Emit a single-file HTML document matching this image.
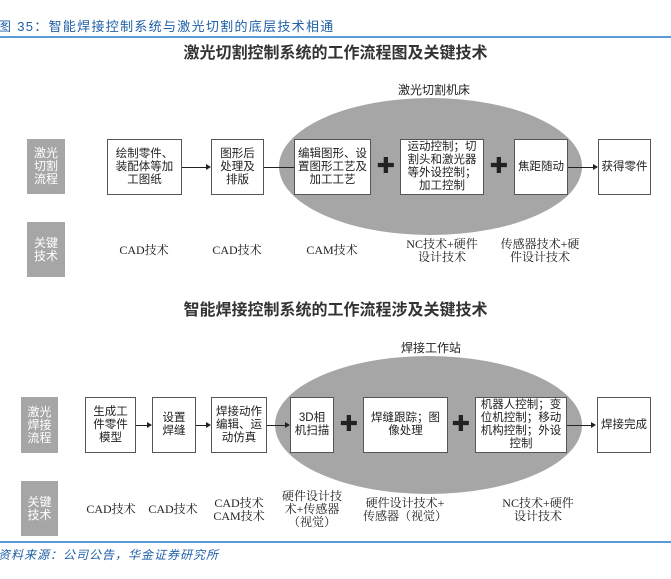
<!DOCTYPE html>
<html><head><meta charset="utf-8"><style>
body{margin:0;width:671px;height:579px;background:#fff;position:relative;overflow:hidden;font-family:"Liberation Serif","Noto Serif CJK SC",serif;color:#222}
div{position:absolute;box-sizing:border-box}
.b{border:1.5px solid #555;background:#fff;display:flex;align-items:center;justify-content:center;text-align:center;font-size:11.5px;line-height:13px;font-family:"Liberation Sans","Noto Sans CJK SC",sans-serif}
.g{background:#a6a6a6;color:#fff;display:flex;align-items:center;justify-content:center;text-align:center;font-size:12px;line-height:13px;font-family:"Liberation Sans","Noto Sans CJK SC",sans-serif}
.e{background:#a6a6a6;border-radius:50%}
.t{text-align:center;font-size:12px;line-height:13px;transform:translateX(-50%);white-space:nowrap}
.ttl{font-size:16px;font-family:"Liberation Sans","Noto Sans CJK SC",sans-serif;font-weight:bold;color:#333;width:671px;text-align:center;left:0}
.ln{height:1px;background:#222}
.ar{width:0;height:0;border-left:5px solid #222;border-top:3px solid transparent;border-bottom:3px solid transparent}
.p{font-size:22px;font-weight:900;font-family:"DejaVu Sans",sans-serif;transform:translate(-50%,-50%);line-height:22px}
.lab{font-size:12px;font-family:"Liberation Sans","Noto Sans CJK SC",sans-serif;transform:translateX(-50%);white-space:nowrap}
</style></head><body>
<div style="left:-2px;top:16px;font-size:13px;letter-spacing:1.3px;color:#1f5fa8;font-family:'Liberation Sans','Noto Sans CJK SC',sans-serif;white-space:nowrap">图 35：智能焊接控制系统与激光切割的底层技术相通</div>
<div style="left:0;top:36px;width:671px;height:1.5px;background:#5b9bd5"></div>
<div class="ttl" style="top:39px">激光切割控制系统的工作流程图及关键技术</div>
<div class="lab" style="left:434px;top:81px">激光切割机床</div>
<div class="e" style="left:279px;top:98px;width:303px;height:137px"></div>
<div class="g" style="left:27px;top:139px;width:38px;height:55px">激光<br>切割<br>流程</div>
<div class="g" style="left:27px;top:222px;width:38px;height:55px">关键<br>技术</div>
<div class="ln" style="left:182px;top:167px;width:25px"></div><div class="ar" style="left:206px;top:164px"></div>
<div class="ln" style="left:264px;top:167px;width:30px"></div>
<div class="ln" style="left:568px;top:167px;width:26px"></div><div class="ar" style="left:593px;top:164px"></div>
<div class="b" style="left:107px;top:139px;width:75px;height:56px">绘制零件、<br>装配体等加<br>工图纸</div>
<div class="b" style="left:211px;top:139px;width:53px;height:56px">图形后<br>处理及<br>排版</div>
<div class="b" style="left:294px;top:139px;width:77px;height:56px">编辑图形、设<br>置图形工艺及<br>加工工艺</div>
<div class="b" style="left:400px;top:139px;width:84px;height:56px">运动控制；切<br>割头和激光器<br>等外设控制；<br>加工控制</div>
<div class="b" style="left:514px;top:139px;width:54px;height:56px">焦距随动</div>
<div class="b" style="left:598px;top:139px;width:53px;height:56px">获得零件</div>
<div class="p" style="left:386px;top:167px">✚</div>
<div class="p" style="left:499px;top:167px">✚</div>
<div class="t" style="left:144px;top:244px">CAD技术</div>
<div class="t" style="left:237px;top:244px">CAD技术</div>
<div class="t" style="left:332px;top:244px">CAM技术</div>
<div class="t" style="left:442px;top:238px">NC技术+硬件<br>设计技术</div>
<div class="t" style="left:540px;top:238px">传感器技术+硬<br>件设计技术</div>

<div class="ttl" style="top:296px">智能焊接控制系统的工作流程涉及关键技术</div>
<div class="lab" style="left:431px;top:339px">焊接工作站</div>
<div class="e" style="left:275px;top:356px;width:307px;height:138px"></div>
<div class="g" style="left:21px;top:397px;width:37px;height:56px">激光<br>焊接<br>流程</div>
<div class="g" style="left:21px;top:481px;width:37px;height:55px">关键<br>技术</div>
<div class="ln" style="left:136px;top:425px;width:12px"></div><div class="ar" style="left:147px;top:422px"></div>
<div class="ln" style="left:196px;top:425px;width:11px"></div><div class="ar" style="left:206px;top:422px"></div>
<div class="ln" style="left:267px;top:425px;width:19px"></div><div class="ar" style="left:285px;top:422px"></div>
<div class="ln" style="left:567px;top:425px;width:25px"></div><div class="ar" style="left:591px;top:422px"></div>
<div class="b" style="left:85px;top:397px;width:51px;height:56px">生成工<br>件零件<br>模型</div>
<div class="b" style="left:152px;top:397px;width:44px;height:56px">设置<br>焊缝</div>
<div class="b" style="left:211px;top:397px;width:56px;height:56px">焊接动作<br>编辑、运<br>动仿真</div>
<div class="b" style="left:290px;top:397px;width:44px;height:56px">3D相<br>机扫描</div>
<div class="b" style="left:363px;top:397px;width:85px;height:56px">焊缝跟踪；图<br>像处理</div>
<div class="b" style="left:475px;top:397px;width:92px;height:56px">机器人控制；变<br>位机控制；移动<br>机构控制；外设<br>控制</div>
<div class="b" style="left:597px;top:397px;width:54px;height:56px">焊接完成</div>
<div class="p" style="left:349px;top:425px">✚</div>
<div class="p" style="left:461px;top:425px">✚</div>
<div class="t" style="left:111px;top:503px">CAD技术</div>
<div class="t" style="left:173px;top:503px">CAD技术</div>
<div class="t" style="left:239px;top:497px">CAD技术<br>CAM技术</div>
<div class="t" style="left:312px;top:490px">硬件设计技<br>术+传感器<br>（视觉）</div>
<div class="t" style="left:405px;top:497px">硬件设计技术+<br>传感器（视觉）</div>
<div class="t" style="left:538px;top:497px">NC技术+硬件<br>设计技术</div>
<div style="left:0;top:541px;width:671px;height:1.5px;background:#5b9bd5"></div>
<div style="left:-2px;top:546px;font-size:12px;font-style:italic;letter-spacing:1px;color:#1f5fa8;font-family:'Liberation Sans','Noto Sans CJK SC',sans-serif;white-space:nowrap">资料来源：公司公告，华金证券研究所</div>
</body></html>
